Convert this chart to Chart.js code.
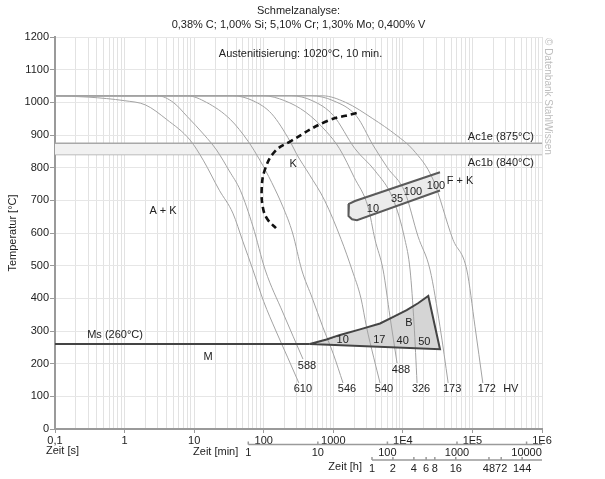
<!DOCTYPE html>
<html>
<head>
<meta charset="utf-8">
<script src="https://cdn.jsdelivr.net/npm/chart.js@4.4.0/dist/chart.umd.min.js"></script>
<style>
html, body { margin: 0; padding: 0; background: #fff; }
#wrap { width: 605px; height: 479px; position: relative; }
</style>
</head>
<body>
<div id="wrap"><canvas id="myChart"></canvas></div>
<script>
// Abkuehlkurven: [Zeit in s, Temperatur in °C]
const kurve1 = [[0.1,1020],[0.3,1016],[1,1005],[2,992],[4,948],[8.7,885],[13.5,823],[23,731],[36,661],[50,575],[70,487],[100,390],[150,300],[220,220],[320,141]];
const kurve2 = [[0.1,1020],[3,1020],[5,1000],[8,956],[14,900],[21,854],[32,790],[46,731],[70,620],[105,487],[190,355],[367,214]];
const kurve3 = [[0.1,1020],[8,1020],[15,1000],[33,948],[60,880],[88,823],[130,755],[189,680],[260,600],[352,487],[500,400],[708,312],[1000,230],[1380,141]];
const kurve4 = [[0.1,1020],[36,1020],[70,1005],[130,965],[240,880],[300,840],[450,780],[750,700],[1300,580],[1860,487],[2500,400],[3000,313],[3800,220],[4700,141]];
const kurve5 = [[0.1,1020],[100,1020],[200,1005],[400,970],[800,910],[1230,858],[2000,770],[3160,680],[3980,580],[5200,487],[6530,344],[8250,202]];
const kurve6 = [[0.1,1020],[250,1020],[500,1005],[1000,960],[2050,858],[4000,790],[7200,705],[10700,580],[12700,487],[14500,320],[16000,141]];
const kurve7 = [[0.1,1020],[480,1020],[1000,1005],[2170,957],[3700,870],[6000,800],[10700,725],[16500,590],[24600,487],[34200,313],[44800,141]];
const kurve8 = [[0.1,1020],[700,1020],[1500,1000],[3700,950],[8000,900],[14000,855],[27000,765],[52500,580],[83000,487],[109000,313],[141000,141]];
const haerte = [610, 588, 546, 540, 488, 326, 173, 172];

const msTemp = 260;
const ac1e = 875;
const ac1b = 840;

// Karbidausscheidung (gestrichelt)
const karbidLinie = [[2170,967],[803,942],[239,880],[145,850],[104,794],[93.5,733],[98.6,672],[115,640],[150,615]];
// Bainitgebiet
const bainitFeld = [[460,260],[800,274],[1250,288],[2420,305],[4700,323],[7300,343],[11350,364],[16500,385],[23200,407],[34200,244],[460,260]];
// Ferrit/Perlit-Gebiet
const perlitFeld = [[34200,786],[2050,698],[1680,689],[1630,671],[1680,652],[1860,642],[2190,639],[34200,730]];

const bainitZahlen = [['10',1365,272],['17',4580,272],['40',9960,269],['50',20300,265]];
const perlitZahlen = [['10',3720,675],['35',8240,703],['100',14000,725],['100',30000,743]];
const gefuege = [['A + K',3.57,666],['K',264,810],['F + K',66200,758],['B',12250,324],['M',15.8,219],['Ms (260°C)',0.73,287]];

// Achsen
const sekundenTicks = [0.1, 1, 10, 100, 1000, 1e4, 1e5, 1e6];
const sekundenLabels = ['0,1', '1', '10', '100', '1000', '1E4', '1E5', '1E6'];
const minutenTicks = [1, 10, 100, 1000, 10000];
const stundenTicks = [1, 2, 4, 6, 8, 16, 48, 72, 144];

const schrift = '"Liberation Sans", Arial, sans-serif';
Chart.defaults.font.family = schrift;
Chart.defaults.font.size = 11;
Chart.defaults.color = '#222';

function punkte(a) { return a.map(p => ({ x: p[0], y: p[1] })); }

const alleTicks = [];
for (let i = 0; i < sekundenTicks.length - 1; i++) {
    for (let j = 1; j < 10; j++) alleTicks.push(j === 1 ? sekundenTicks[i] : j * sekundenTicks[i]);
}
alleTicks.push(sekundenTicks[sekundenTicks.length - 1]);

const kurven = [kurve1, kurve2, kurve3, kurve4, kurve5, kurve6, kurve7, kurve8];

const datasets = [];
datasets.push({ data: punkte(karbidLinie), borderColor: '#111', borderWidth: 2.6, borderDash: [6, 4], tension: 0.4, order: 1 });
datasets.push({ data: punkte(bainitFeld), borderColor: '#444', borderWidth: 2, order: 2 });
datasets.push({ data: punkte(perlitFeld), borderColor: '#5a5a5a', borderWidth: 2, order: 2 });
datasets.push({ data: [{ x: 0.1, y: msTemp }, { x: bainitFeld[0][0], y: msTemp }], borderColor: '#444', borderWidth: 2, order: 3 });
kurven.forEach(k => {
    datasets.push({ data: punkte(k), borderColor: '#a3a3a3', borderWidth: 1, cubicInterpolationMode: 'monotone', order: 5 });
});
datasets.push({ data: punkte(bainitFeld), borderColor: 'rgba(0,0,0,0)', borderWidth: 0, fill: 'shape', backgroundColor: '#d5d5d5', order: 8 });
datasets.push({ data: punkte(perlitFeld), borderColor: 'rgba(0,0,0,0)', borderWidth: 0, fill: 'shape', backgroundColor: '#ebebeb', order: 8 });
datasets.push({ data: [{ x: 0.1, y: ac1e }, { x: 1e6, y: ac1e }], borderColor: '#a8a8a8', borderWidth: 1.5, fill: '+1', backgroundColor: '#f1f1f1', order: 9 });
datasets.push({ data: [{ x: 0.1, y: ac1b }, { x: 1e6, y: ac1b }], borderColor: '#a8a8a8', borderWidth: 1.5, order: 9 });

// Texte und Nebenachsen
const beschriftung = {
    id: 'beschriftung',
    afterDraw(chart) {
        const ctx = chart.ctx;
        const xs = chart.scales.x, ys = chart.scales.y;
        const area = chart.chartArea;
        const mitte = (area.left + area.right) / 2;
        ctx.save();
        ctx.fillStyle = '#222';
        ctx.font = '11px ' + schrift;
        ctx.textAlign = 'center';
        ctx.textBaseline = 'middle';
        ctx.fillText('Schmelzanalyse:', mitte, 11);
        ctx.fillText('0,38% C; 1,00% Si; 5,10% Cr; 1,30% Mo; 0,400% V', mitte, 25);
        ctx.fillText('Austenitisierung: 1020°C, 10 min.', mitte + 2, 54);

        gefuege.concat(bainitZahlen, perlitZahlen).forEach(l => {
            ctx.fillText(l[0], xs.getPixelForValue(l[1]), ys.getPixelForValue(l[2]));
        });

        ctx.textAlign = 'right';
        ctx.fillText('Ac1e (875°C)', area.right - 8, ys.getPixelForValue(ac1e) - 6);
        ctx.fillText('Ac1b (840°C)', area.right - 8, ys.getPixelForValue(ac1b) + 8);

        // Haertewerte am Ende der Kurven
        ctx.textAlign = 'center';
        ctx.textBaseline = 'top';
        let letztesX = 0, letztesY = 0;
        kurven.forEach((k, i) => {
            const p = k[k.length - 1];
            letztesX = xs.getPixelForValue(p[0]) + 4;
            letztesY = ys.getPixelForValue(p[1]) + 1;
            ctx.fillText(String(haerte[i]), letztesX, letztesY);
        });
        ctx.fillText('HV', letztesX + 24, letztesY);

        // Nebenachsen Minuten und Stunden
        function nebenachse(werte, faktor, y) {
            ctx.strokeStyle = '#9a9a9a';
            ctx.lineWidth = 1.5;
            ctx.beginPath();
            ctx.moveTo(xs.getPixelForValue(werte[0] * faktor), y);
            ctx.lineTo(area.right, y);
            werte.forEach(w => {
                const px = xs.getPixelForValue(w * faktor);
                ctx.moveTo(px, y);
                ctx.lineTo(px, y - 3);
            });
            ctx.stroke();
            ctx.textAlign = 'center';
            ctx.textBaseline = 'middle';
            werte.forEach(w => ctx.fillText(String(w), xs.getPixelForValue(w * faktor), y + 8.5));
        }
        nebenachse(minutenTicks, 60, area.bottom + 15.5);
        nebenachse(stundenTicks, 3600, area.bottom + 31);

        ctx.textBaseline = 'middle';
        ctx.textAlign = 'left';
        ctx.fillText('Zeit [s]', area.left - 9, area.bottom + 22);
        ctx.textAlign = 'right';
        ctx.fillText('Zeit [min]', xs.getPixelForValue(60) - 10, area.bottom + 23);
        ctx.fillText('Zeit [h]', xs.getPixelForValue(3600) - 10, area.bottom + 38);

        // Wasserzeichen
        ctx.translate(area.right + 6, area.top + 1);
        ctx.rotate(Math.PI / 2);
        ctx.fillStyle = '#bdbdbd';
        ctx.font = '10px ' + schrift;
        ctx.textAlign = 'left';
        ctx.fillText('© Datenbank StahlWissen', 0, 0);
        ctx.restore();
    }
};

new Chart(document.querySelector('#myChart'), {
    type: 'line',
    data: { datasets: datasets },
    options: {
        responsive: true,
        maintainAspectRatio: false,
        animation: false,
        layout: { padding: { top: 37, right: 63, left: 0, bottom: 0 } },
        elements: { point: { radius: 0 } },
        plugins: { legend: { display: false }, tooltip: { enabled: false } },
        scales: {
            x: {
                type: 'logarithmic',
                min: 0.1,
                max: 1e6,
                afterBuildTicks: s => { s.ticks = alleTicks.map(v => ({ value: v })); },
                afterFit: s => { s.height = 50; },
                ticks: {
                    autoSkip: false,
                    maxRotation: 0,
                    padding: 1,
                    callback: v => {
                        const k = sekundenTicks.indexOf(v);
                        return k >= 0 ? sekundenLabels[k] : '';
                    }
                },
                grid: {
                    color: '#e2e2e2',
                    tickLength: 4,
                    tickColor: c => (c.tick && sekundenTicks.indexOf(c.tick.value) >= 0) ? '#9a9a9a' : 'rgba(0,0,0,0)'
                },
                border: { color: '#9a9a9a', width: 2 }
            },
            y: {
                min: 0,
                max: 1200,
                afterFit: s => { s.width = 55; },
                ticks: { stepSize: 100, padding: 1, callback: v => String(v) },
                title: { display: true, text: 'Temperatur [°C]', padding: { top: 6, bottom: 0 } },
                grid: { color: '#e6e6e6', tickLength: 5, tickColor: '#9a9a9a' },
                border: { color: '#9a9a9a', width: 2 }
            }
        }
    },
    plugins: [beschriftung]
});
</script>
</body>
</html>
